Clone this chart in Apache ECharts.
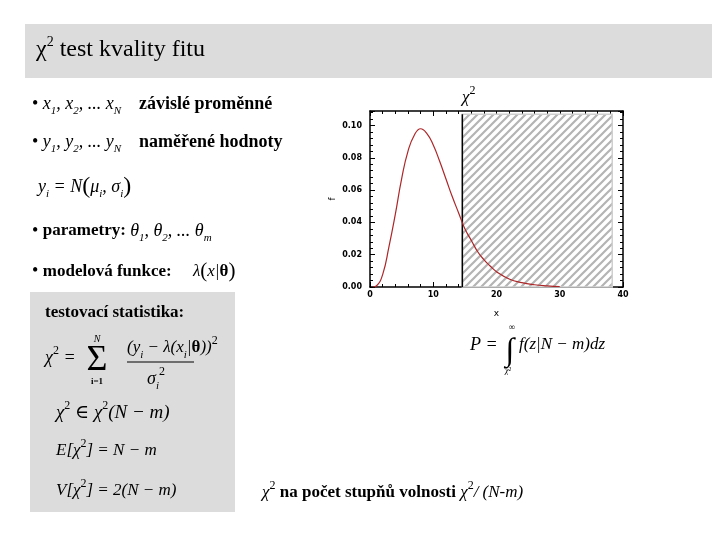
<!DOCTYPE html>
<html><head><meta charset="utf-8">
<script src="https://cdn.jsdelivr.net/npm/echarts@6/dist/echarts.min.js"></script>
<style>html,body{margin:0;padding:0;background:#fff}#c{width:720px;height:540px}</style>
</head><body><div id="c"></div>
<script>
// ---- data ----
var curveX = [0.5, 1, 2, 3, 4, 5, 6, 7, 8, 9, 10, 11, 12, 13, 14, 15, 16, 17, 18, 19, 20, 22, 24, 26, 28, 30];
var curveY = [0, 0.0006, 0.0077, 0.025, 0.045, 0.067, 0.084, 0.094, 0.098, 0.095, 0.088, 0.078, 0.067, 0.056, 0.046, 0.036, 0.029, 0.022, 0.017, 0.013, 0.0095, 0.005, 0.0027, 0.0014, 0.0007, 0.0003];
var hatchStart = 14.6;
var hatchEnd = 38.3;
var hatchTop = 0.107;
var xTicks = [0, 10, 20, 30, 40];
var yTicks = [0, 0.02, 0.04, 0.06, 0.08, 0.10];

var curve = curveX.map(function (x, i) { return [x, curveY[i]]; });

// hatch pattern
var pc = document.createElement('canvas');
pc.width = 8; pc.height = 8;
var g = pc.getContext('2d');
g.fillStyle = '#ffffff'; g.fillRect(0, 0, 8, 8);
g.strokeStyle = '#b4b4b4'; g.lineWidth = 2.2;
g.beginPath();
g.moveTo(-1, 9); g.lineTo(9, -1);
g.moveTo(-1, 1); g.lineTo(1, -1);
g.moveTo(7, 9); g.lineTo(9, 7);
g.stroke();

var SERIF = '"Liberation Serif", "DejaVu Serif", serif';
var AX = { color: '#000', fontFamily: 'DejaVu Sans', fontSize: 8, fontWeight: 'bold' };

var rich = {
  b: { fontFamily: SERIF, fontSize: 18, fontWeight: 'bold', lineHeight: 26, verticalAlign: 'middle' },
  b17: { fontFamily: SERIF, fontSize: 17, fontWeight: 'bold', lineHeight: 26, verticalAlign: 'middle' },
  n: { fontFamily: SERIF, fontSize: 18, lineHeight: 26, verticalAlign: 'middle' },
  i: { fontFamily: SERIF, fontSize: 18, fontStyle: 'italic', lineHeight: 26, verticalAlign: 'middle' },
  i19: { fontFamily: SERIF, fontSize: 19, fontStyle: 'italic', lineHeight: 26, verticalAlign: 'middle' },
  i17: { fontFamily: SERIF, fontSize: 17, fontStyle: 'italic', lineHeight: 26, verticalAlign: 'middle' },
  bp: { fontFamily: SERIF, fontSize: 24, lineHeight: 26, verticalAlign: 'middle' },
  bp20: { fontFamily: SERIF, fontSize: 21, lineHeight: 26, verticalAlign: 'middle' },
  sub: { fontFamily: SERIF, fontSize: 11, fontStyle: 'italic', lineHeight: 26, verticalAlign: 'bottom' },
  sup: { fontFamily: SERIF, fontSize: 11, fontStyle: 'italic', lineHeight: 26, verticalAlign: 'top' },
  supn: { fontFamily: SERIF, fontSize: 12, lineHeight: 26, verticalAlign: 'top' },
  t: { fontFamily: SERIF, fontSize: 24, lineHeight: 30, verticalAlign: 'middle' },
  tsup: { fontFamily: SERIF, fontSize: 14, lineHeight: 30, verticalAlign: 'top' }
};

function txt(x, y, text, extra) {
  var s = { text: text, rich: rich, fill: '#000', font: '18px ' + SERIF };
  if (extra) for (var k in extra) s[k] = extra[k];
  return { type: 'text', left: x, top: y, style: s, z: 10 };
}
function ptxt(x, y, text, font, extra) {
  var s = { text: text, fill: '#000', font: font, textVerticalAlign: 'middle', verticalAlign: 'middle' };
  if (extra) for (var k in extra) s[k] = extra[k];
  return { type: 'text', x: x, y: y, style: s, z: 10 };
}

var chart = echarts.init(document.getElementById('c'), null, { renderer: 'canvas' });
var axisCommon = {
  type: 'value',
  axisLine: { show: true, onZero: false, lineStyle: { color: '#000', width: 1.5 } },
  axisTick: { show: true, inside: true, length: 5, lineStyle: { color: '#000' } },
  minorTick: { show: true, splitNumber: 5, length: 3, lineStyle: { color: '#000' } },
  splitLine: { show: false }
};
function ax(o) { var r = JSON.parse(JSON.stringify(axisCommon)); for (var k in o) r[k] = o[k]; return r; }

chart.setOption({
  backgroundColor: '#fff',
  animation: false,
  grid: { left: 370, right: 97, top: 111, bottom: 253 },
  xAxis: [
    ax({ min: 0, max: 40, interval: 10, position: 'bottom', name: 'x', nameLocation: 'middle', nameGap: 22,
      nameTextStyle: { fontFamily: 'DejaVu Sans', fontSize: 9, color: '#000' },
      axisLabel: Object.assign({ margin: 4, formatter: function (v) { return xTicks.indexOf(v) >= 0 ? String(v) : ''; } }, AX) }),
    ax({ min: 0, max: 40, interval: 10, position: 'top', axisLabel: { show: false } })
  ],
  yAxis: [
    ax({ min: 0, max: 0.109, interval: 0.02, position: 'left', name: 'f', nameLocation: 'middle', nameGap: 33, nameRotate: 90,
      nameTextStyle: { fontFamily: 'DejaVu Sans', fontSize: 9, color: '#000' },
      axisLabel: Object.assign({ margin: 8, showMaxLabel: false, formatter: function (v) {
        for (var i = 0; i < yTicks.length; i++) if (Math.abs(yTicks[i] - v) < 1e-9) return yTicks[i].toFixed(2);
        return ''; } }, AX) }),
    ax({ min: 0, max: 0.109, interval: 0.02, position: 'right', axisLabel: { show: false } })
  ],
  series: [
    {
      type: 'line', name: 'cut', data: [[hatchStart, 0], [hatchStart, hatchTop]], symbol: 'none',
      lineStyle: { color: '#000', width: 1.5 }, silent: true,
      markArea: {
        silent: true,
        itemStyle: { color: { image: pc, repeat: 'repeat' }, borderColor: '#cfcfcf', borderWidth: 1.5 },
        data: [[{ coord: [hatchStart, 0] }, { coord: [hatchEnd, hatchTop] }]]
      }
    },
    {
      type: 'line', name: 'chi2', data: curve, smooth: true, symbol: 'none',
      lineStyle: { color: '#ad2628', width: 1.2 }, z: 5
    }
  ],
  graphic: [
    { type: 'rect', shape: { x: 25, y: 24, width: 687, height: 54 }, style: { fill: '#dcdcdc' }, z: 1 },
    { type: 'rect', shape: { x: 30, y: 292, width: 205, height: 220 }, style: { fill: '#dcdcdc' }, z: 1 },
    // title
    txt(36, 35, '{t|χ}{tsup|2}{t| test kvality fitu}'),
    // chart title
    txt(462, 85, '{i17|χ}{supn|2}'),
    // bullets
    txt(32, 95, '{n|• }{i|x}{sub|1}{i|, x}{sub|2}{i|, ... x}{sub|N}{n|    }{b|závislé proměnné}'),
    txt(32, 133, '{n|• }{i|y}{sub|1}{i|, y}{sub|2}{i|, ... y}{sub|N}{n|    }{b|naměřené hodnoty}'),
    txt(38, 175, '{i|y}{sub|i}{i| = N}{bp|(}{i|μ}{sub|i}{i|, σ}{sub|i}{bp|)}'),
    txt(32, 222, '{n|• }{b17|parametry: }{i|θ}{sub|1}{i|, θ}{sub|2}{i|, ... θ}{sub|m}'),
    txt(32, 261, '{n|• }{b17|modelová funkce:     }{i17|λ}{bp20|(}{i17|x|}{b17|θ}{bp20|)}'),
    // gray box contents
    txt(45, 304, '{b17|testovací statistika:}'),
    txt(45, 345, '{i|χ}{supn|2}{i| =}'),
    ptxt(97, 361, 'Σ', '36px ' + SERIF, { textAlign: 'center' }),
    ptxt(97, 339, 'N', 'italic 10px ' + SERIF, { textAlign: 'center' }),
    ptxt(97, 382, 'i=1', 'bold 9px ' + SERIF, { textAlign: 'center' }),
    txt(127, 335, '{i17|(y}{sub|i}{i17| − λ(x}{sub|i}{i17||}{b17|θ}{i17|))}{supn|2}'),
    { type: 'line', shape: { x1: 127, y1: 362, x2: 194, y2: 362 }, style: { stroke: '#000', lineWidth: 1 }, z: 10 },
    txt(147, 366, '{i|σ}{sub|i}{supn|2}'),
    txt(56, 400, '{i19|χ}{supn|2}{i19| ∈ χ}{supn|2}{i19|(N − m)}'),
    txt(56, 438, '{i17|E[χ}{supn|2}{i17|] = N − m}'),
    txt(56, 478, '{i17|V[χ}{supn|2}{i17|] = 2(N − m)}'),
    // P formula
    txt(470, 336, '{i|P =}'),
    ptxt(510, 352, '∫', '32px ' + SERIF, { textAlign: 'center' }),
    ptxt(512, 328, '∞', '9px ' + SERIF, { textAlign: 'center' }),
    ptxt(508, 371, 'χ²', 'italic 8px ' + SERIF, { textAlign: 'center' }),
    txt(519, 336, '{i17|f(z|N − m)dz}'),
    // bottom text
    txt(262, 480, '{i17|χ}{supn|2}{b17| na počet stupňů volnosti }{i17|χ}{supn|2}{i17|/ (N-m)}')
  ]
});
</script></body></html>
